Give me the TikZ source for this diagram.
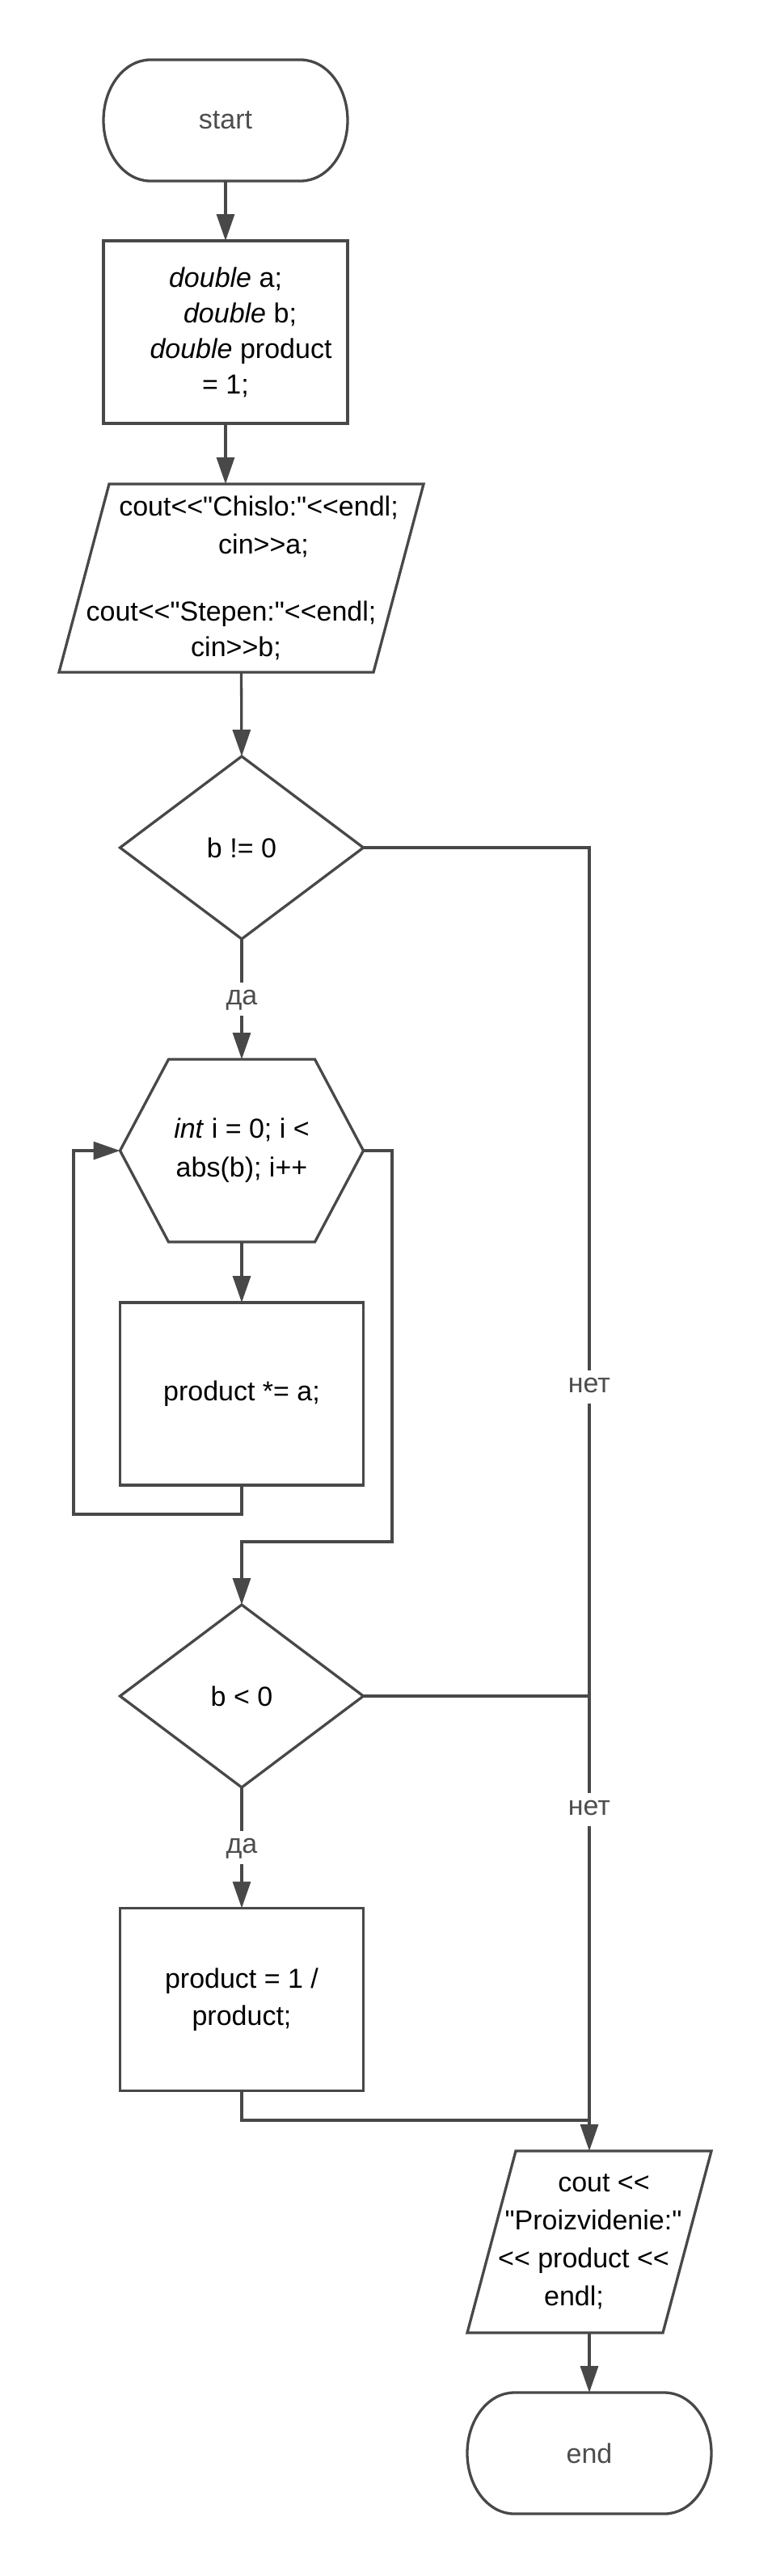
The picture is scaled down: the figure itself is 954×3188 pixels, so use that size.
\documentclass[tikz,border=0pt]{standalone}
\usepackage{fontspec}
\newfontfamily\lsans{Liberation Sans}
\usetikzlibrary{arrows.meta,shapes.geometric,calc}
\definecolor{lc}{RGB}{72,72,72}
\definecolor{tc}{RGB}{77,77,77}
\begin{document}
\begin{tikzpicture}[x=1pt,y=-1pt,
 base/.style={line width=3.3pt, draw=lc, inner sep=0pt, outer sep=0pt, align=center, text=black, font=\lsans\fontsize{34}{44}\selectfont},
 term/.style={base, draw=none, rectangle, minimum width=302pt, minimum height=150pt, text=tc},
 proc/.style={base, rectangle, minimum width=301pt, minimum height=226pt},
 dec/.style={base, diamond, minimum width=301pt, minimum height=226pt},
 holder/.style={base, draw=none, rectangle},
 outline/.style={line width=3.3pt, draw=lc, line join=miter},
 conn/.style={line width=3.3pt, draw=lc},
 arr/.style={conn, -{Triangle[length=33pt,width=22pt]}},
 lbl/.style={fill=white, text=tc, font=\lsans\fontsize{34}{40}\selectfont, inner sep=2pt, text height=25pt, text depth=12pt, anchor=base}
]
\useasboundingbox (0,0) rectangle (954,3188);

% nodes
\node[term] (start) at (279,149) {start};
\draw[outline] (186,74) -- (372,74) .. controls (404,74) and (430,107.6) .. (430,149)
  .. controls (430,190.4) and (404,224) .. (372,224) -- (186,224)
  .. controls (154,224) and (128,190.4) .. (128,149)
  .. controls (128,107.6) and (154,74) .. (186,74) -- cycle;
\node[proc, minimum width=302pt] (box1) at (279,411) {\textit{double} a;\\ \kern36pt\textit{double} b;\\ \kern38pt\textit{double} product\\ = 1;};
\node[holder, minimum width=451pt, minimum height=233pt, font=\lsans\fontsize{34}{45}\selectfont] (pio1) at (298.5,715.5)
  {\kern43pt cout<<"Chislo:"<<endl;\\[2pt] \kern55pt cin>>a;\\[38pt] cout<<"Stepen:"<<endl;\kern25pt\\[-1pt] cin>>b;\kern13pt};
\draw[outline] ([xshift=62pt]pio1.north west) -- (pio1.north east) -- ([xshift=-62pt]pio1.south east) -- (pio1.south west) -- cycle;
\node[dec] (d1) at (299,1049) {b != 0};
\node[holder, minimum width=301pt, minimum height=226pt, font=\lsans\fontsize{34}{48}\selectfont] (hex) at (299,1424) {\textit{int} i = 0; i <\\ abs(b); i++};
\draw[outline] ([xshift=60pt]hex.north west) -- ([xshift=-60pt]hex.north east) -- (hex.east) -- ([xshift=-60pt]hex.south east) -- ([xshift=60pt]hex.south west) -- (hex.west) -- cycle;
\node[proc] (body) at (299,1725) {product *= a;};
\node[dec] (d2) at (299,2099) {b < 0};
\node[proc, font=\lsans\fontsize{34}{46}\selectfont] (p3) at (299,2474.5) {product = 1 /\\ product;};
\node[holder, minimum width=302pt, minimum height=225pt, font=\lsans\fontsize{34}{47}\selectfont] (pio2) at (729,2774.5)
  {\kern36pt cout <<\\ \kern10pt "Proizvidenie:"\\ << product <<\kern14pt\\ endl;\kern38pt};
\draw[outline] ([xshift=60pt]pio2.north west) -- (pio2.north east) -- ([xshift=-60pt]pio2.south east) -- (pio2.south west) -- cycle;
\node[term] (stop) at (729,3036) {end};
\draw[outline] (636,2961) -- (822,2961) .. controls (854,2961) and (880,2994.6) .. (880,3036)
  .. controls (880,3077.4) and (854,3111) .. (822,3111) -- (636,3111)
  .. controls (604,3111) and (578,3077.4) .. (578,3036)
  .. controls (578,2994.6) and (604,2961) .. (636,2961) -- cycle;

% helper coordinates
\coordinate (lpL) at (91,1874);
\coordinate (lpR) at (485,1908);
\coordinate (mrg) at (729,2624);

% connectors
\draw[arr] (start.south) -- (box1.north);
\draw[arr] (box1.south) -- (box1.south |- pio1.north);
\draw[arr] (pio1.south) -- (d1.north);
\draw[arr] (d1.south) -- (hex.north);
\draw[arr] (hex.south) -- (body.north);
\draw[arr] (body.south) -- (body.south |- lpL) -- (lpL) -- (lpL |- hex.west) -- (hex.west);
\draw[arr] (hex.east) -- (hex.east -| lpR) -- (lpR) -- (lpR -| d2.north) -- (d2.north);
\draw[arr] (d1.east) -- (d1.east -| pio2.north) -- (pio2.north);
\draw[conn] (d2.east) -- (d2.east -| pio2.north);
\draw[arr] (d2.south) -- (p3.north);
\draw[conn] (p3.south) -- (p3.south |- mrg) -- (mrg);
\draw[arr] (pio2.south) -- (stop.north);

% labels
\node[lbl] (yes1) at (299,1243) {да};
\node[lbl] (no1) at (729,1723) {нет};
\node[lbl] (no2) at (729,2246) {нет};
\node[lbl] (yes2) at (299,2293) {да};
\end{tikzpicture}
\end{document}
